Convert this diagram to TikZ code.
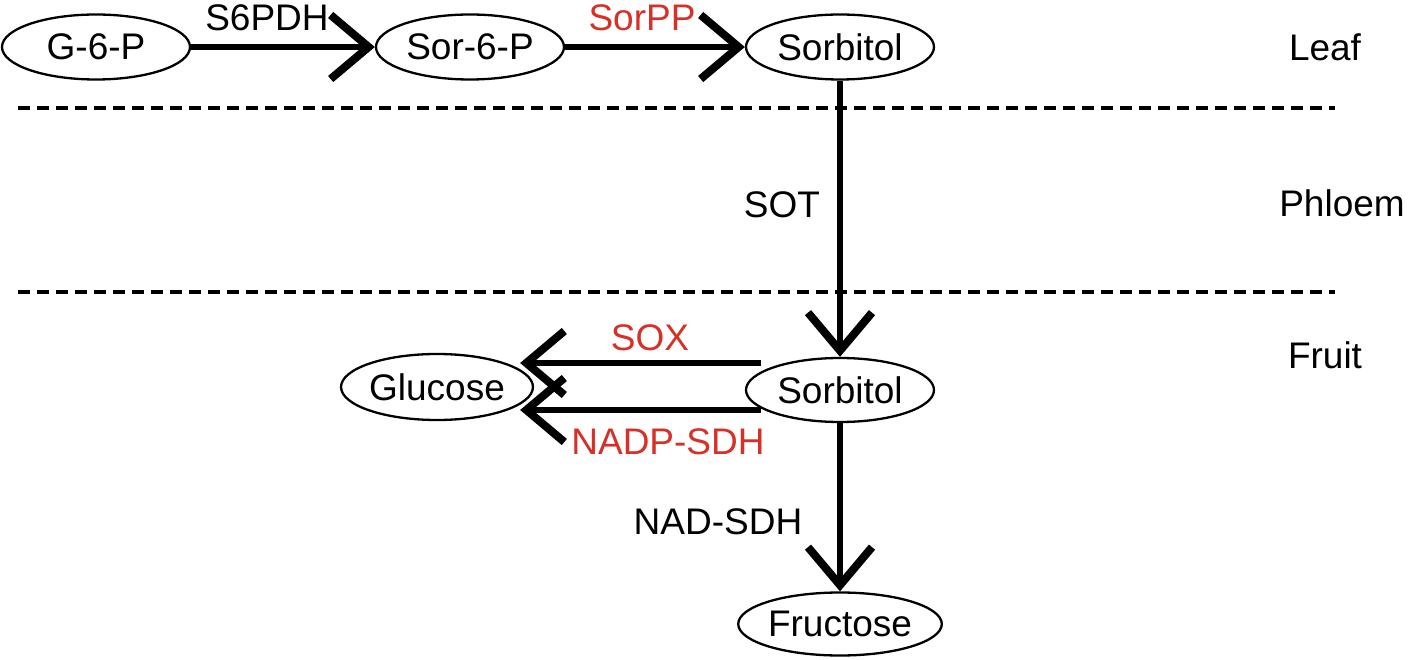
\documentclass[tikz,border=0pt]{standalone}
\usepackage{fontspec}
\setmainfont{Liberation Sans}
\usetikzlibrary{shapes.geometric,arrows.meta,calc}
\definecolor{enzred}{RGB}{214,48,39}
\begin{document}
\begin{tikzpicture}[x=1pt,y=-1pt,
  met/.style={ellipse,draw,line width=2.3pt,minimum width=188pt,minimum height=65pt,inner sep=0pt,font=\fontsize{37}{40}\selectfont},
  lbl/.style={font=\fontsize{37}{40}\selectfont,inner sep=0pt},
  flow/.style={line width=6pt,-{Straight Barb[length=38pt,width=64pt,line width=8pt,sharp]}},
  sep/.style={line width=3.8pt,dash pattern=on 12pt off 7pt}]
\useasboundingbox (0,0) rectangle (1424,660);
\node[met] (g6p) at (96,47) {G-6-P};
\node[met] (s6p) at (470,47) {Sor-6-P};
\node[met] (sorL) at (840,47) {Sorbitol};
\node[met,minimum width=186pt,minimum height=66pt] (glu) at (437,387) {Glucose};
\node[met,minimum height=64pt] (sorF) at (840,390) {Sorbitol};
\node[met,minimum height=63pt] (fru) at (840,624) {Fructose};
\draw[sep] (18,108) -- (1335,108);
\draw[sep] (18,292) -- (1335,292);
\draw[flow] (g6p.east) -- (s6p.west);
\draw[flow] (s6p.east) -- (sorL.west);
\draw[flow] (sorL.south) -- (sorF.north);
\draw[flow] ($(sorF.west)+(16,-27)$) -- ($(glu.east)+(-14,-24)$);
\draw[flow] ($(sorF.west)+(16,20)$) -- ($(glu.east)+(-14,23)$);
\draw[flow] (sorF.south) -- (fru.north);
\node[lbl] (e1) at (267,18) {S6PDH};
\node[lbl,text=enzred] (e2) at (642,18) {SorPP};
\node[lbl] (e3) at (782,205) {SOT};
\node[lbl,text=enzred] (e4) at (650,338) {SOX};
\node[lbl,text=enzred] (e5) at (668,442) {NADP-SDH};
\node[lbl] (e6) at (718,522) {NAD-SDH};
\node[lbl] (t1) at (1325,47) {Leaf};
\node[lbl] (t2) at (1342,203) {Phloem};
\node[lbl] (t3) at (1325,355) {Fruit};
\end{tikzpicture}
\end{document}
